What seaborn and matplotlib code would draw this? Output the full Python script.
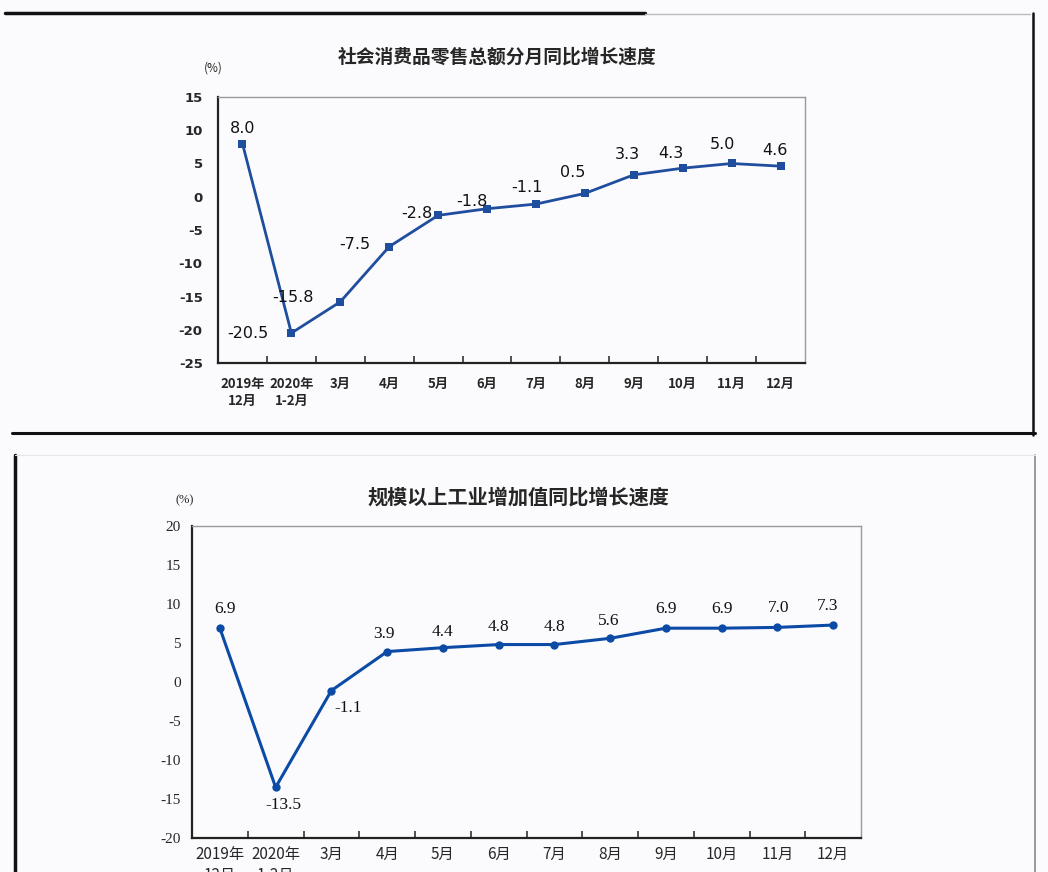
import matplotlib
matplotlib.use("Agg")
import matplotlib.pyplot as plt
from matplotlib.lines import Line2D
import pandas as pd
import seaborn as sns

months = ["2019年\n12月", "2020年\n1-2月", "3月", "4月", "5月", "6月",
          "7月", "8月", "9月", "10月", "11月", "12月"]

retail_growth = [8.0, -20.5, -15.8, -7.5, -2.8, -1.8, -1.1, 0.5, 3.3, 4.3, 5.0, 4.6]
industry_growth = [6.9, -13.5, -1.1, 3.9, 4.4, 4.8, 4.8, 5.6, 6.9, 6.9, 7.0, 7.3]

retail_title = "社会消费品零售总额分月同比增长速度"
industry_title = "规模以上工业增加值同比增长速度"

# label offsets in pixels (dx, dy)
retail_offsets = [(0, 15), (-43, 0), (-47, 4), (-34, 2), (-21, 2), (-15, 7),
                  (-9, 17), (-12, 21), (-6, 20), (-12, 15), (-9, 19), (-6, 16)]
industry_offsets = [(5, 19), (8, -18), (17, -17), (-3, 18), (0, 16), (0, 18),
                    (0, 18), (-1, 17), (0, 19), (0, 19), (1, 19), (-5, 19)]

sns.set_style("white")
plt.rcParams['font.family'] = ['Noto Sans CJK SC', 'DejaVu Sans']

W, H = 1048, 872
fig = plt.figure(figsize=(W / 100, H / 100), dpi=100)
fig.patch.set_facecolor('#fbfbfd')


def px_axes(left, top, right, bottom):
    return fig.add_axes([left / W, 1 - bottom / H, (right - left) / W, (bottom - top) / H])


def style_axes(ax, ylim, yticks, lab_font, tick_size, ypad, xpad, weight='normal'):
    ax.set_facecolor('#fbfbfd')
    ax.set_xlim(-0.5, 11.5)
    ax.set_ylim(*ylim)
    ax.set_yticks(yticks)
    ax.set_yticklabels([str(v) for v in yticks], family=lab_font, fontsize=tick_size,
                       fontweight=weight)
    ax.set_xticks(range(len(months)))
    ax.set_xticklabels(months, family=['Noto Sans CJK SC'], fontsize=tick_size,
                       linespacing=1.3, fontweight=weight)
    ax.set_xticks([i + 0.5 for i in range(len(months) - 1)], minor=True)
    ax.tick_params(axis='x', which='major', length=0, pad=xpad)
    ax.tick_params(axis='x', which='minor', direction='in', length=5, width=1.2,
                   color='#333333', bottom=True)
    ax.tick_params(axis='y', length=0, pad=ypad)
    ax.set_xlabel("")
    ax.set_ylabel("")
    for s in ['left', 'bottom']:
        ax.spines[s].set_color('#222222')
        ax.spines[s].set_linewidth(1.6)
    for s in ['top', 'right']:
        ax.spines[s].set_color('#9a9a9a')
        ax.spines[s].set_linewidth(1.0)
        ax.spines[s].set_visible(True)


# top chart
ax1 = px_axes(218, 97, 805, 363)
df1 = pd.DataFrame({'month': months, 'growth': retail_growth})
sns.lineplot(data=df1, x='month', y='growth', ax=ax1, color='#1f4e9e', linewidth=2.0,
             marker='s', markersize=5.5, markeredgewidth=0, sort=False)
style_axes(ax1, (-25, 15), list(range(-25, 20, 5)), ['DejaVu Sans'], 9.5, 11, 10,
           weight='semibold')
for i, (v, off) in enumerate(zip(retail_growth, retail_offsets)):
    ax1.annotate(f"{v:.1f}", (i, v), xytext=off, textcoords='offset pixels',
                 ha='center', va='center', fontsize=11.5, family=['DejaVu Sans'],
                 color='#111111')
fig.text(497 / W, 1 - 57 / H, retail_title, ha='center', va='center',
         fontsize=13.5, fontweight='bold')
fig.text(213 / W, 1 - 68 / H, "(%)", ha='center', va='center', fontsize=8.5)

# bottom chart
ax2 = px_axes(192, 526, 861, 838)
df2 = pd.DataFrame({'month': months, 'growth': industry_growth})
sns.lineplot(data=df2, x='month', y='growth', ax=ax2, color='#0b4ba6', linewidth=2.2,
             marker='o', markersize=6, markeredgewidth=0, sort=False)
style_axes(ax2, (-20, 20), list(range(-20, 25, 5)), ['Liberation Serif'], 11, 8, 6)
for i, (v, off) in enumerate(zip(industry_growth, industry_offsets)):
    ax2.annotate(f"{v:.1f}", (i, v), xytext=off, textcoords='offset pixels',
                 ha='center', va='center', fontsize=12.5, family=['Liberation Serif'],
                 color='#111111')
fig.text(518 / W, 1 - 497 / H, industry_title, ha='center', va='center',
         fontsize=14.5, fontweight='bold')
fig.text(185 / W, 1 - 500 / H, "(%)", ha='center', va='center', fontsize=9,
         family=['Liberation Serif'])


# screenshot frame lines
def frame_line(x0, y0, x1, y1, color, lw):
    fig.add_artist(Line2D([x0 / W, x1 / W], [1 - y0 / H, 1 - y1 / H],
                          color=color, linewidth=lw, transform=fig.transFigure))


frame_line(5, 13, 645, 13, '#111111', 2.5)
frame_line(645, 14, 1030, 14, '#bbbbbb', 1.0)
frame_line(1033, 13, 1033, 435, '#111111', 1.8)
frame_line(12, 433, 1035, 433, '#111111', 2.2)
frame_line(15, 455, 15, 872, '#111111', 2.5)
frame_line(1035, 455, 1035, 872, '#888888', 1.2)
frame_line(15, 455, 1035, 455, '#e6e6e6', 0.8)

fig.savefig("out.png", dpi=100, facecolor=fig.get_facecolor())
